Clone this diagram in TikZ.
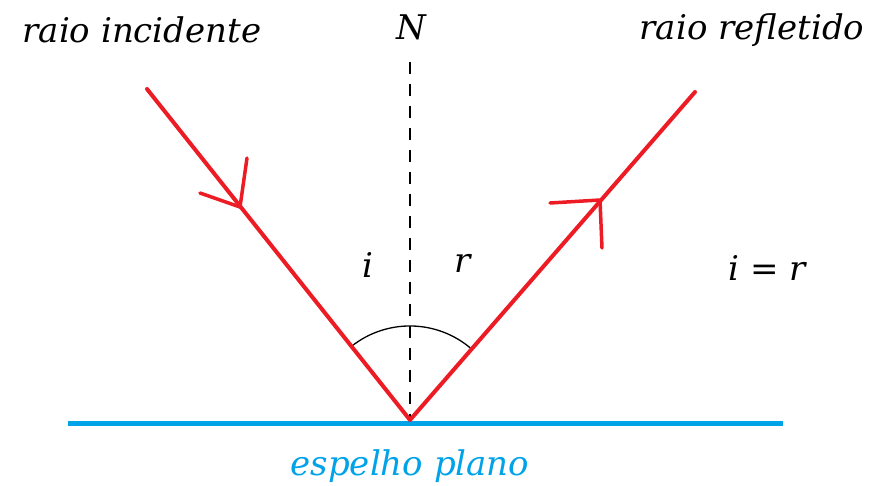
\documentclass[tikz,border=0pt]{standalone}
\usepackage{fontspec}
\setmainfont{DejaVu Serif}
\definecolor{rayred}{RGB}{237,28,36}
\definecolor{mirrorblue}{RGB}{0,162,232}
\begin{document}
\begin{tikzpicture}[x=1pt,y=-1pt,
  lbl/.style={font=\fontsize{34}{38}\selectfont\itshape, inner sep=0pt},
  ray/.style={draw=rayred, line width=4pt, line cap=round, line join=round},
  arm/.style={draw=rayred, line width=3.5pt, line cap=round}]
\useasboundingbox (0,0) rectangle (881,485);
% points
\coordinate (src) at (147,89);
\coordinate (O) at (410,420);
\coordinate (dst) at (695,92);
\coordinate (Ntop) at (410,62);
\coordinate (ML) at (68,423);
\coordinate (MR) at (783,423);
% mirror
\draw[draw=mirrorblue, line width=5pt] (ML) -- (MR);
% normal
\draw[black, line width=1.8pt, dash pattern=on 12pt off 10pt] (Ntop) -- (O);
% angle arc
\draw[black, line width=1.3pt] (O) ++(-58.6,-73.6) arc[start angle=231.5, end angle=311, radius=94];
% rays
\draw[ray] (src) -- (O) -- (dst);
% arrowheads
\coordinate (t1) at (240,207);
\coordinate (t1a) at (247,158);
\coordinate (t1b) at (200,193);
\draw[arm] (t1a) -- (t1) -- (t1b);
\coordinate (t2) at (600,200);
\coordinate (t2a) at (550,203);
\coordinate (t2b) at (602,248);
\draw[arm] (t2a) -- (t2) -- (t2b);
% labels
\node[lbl] (lin) at (142,30) {raio incidente};
\node[lbl] (lN) at (411,27) {N};
\node[lbl] (lout) at (752,30) {raio refletido};
\node[lbl] (li) at (368,265) {i};
\node[lbl] (lr) at (463,263) {r};
\node[lbl] (leq) at (767,268) {i = r};
\node[lbl, text=mirrorblue] (lm) at (410,466) {espelho plano};
\end{tikzpicture}
\end{document}
